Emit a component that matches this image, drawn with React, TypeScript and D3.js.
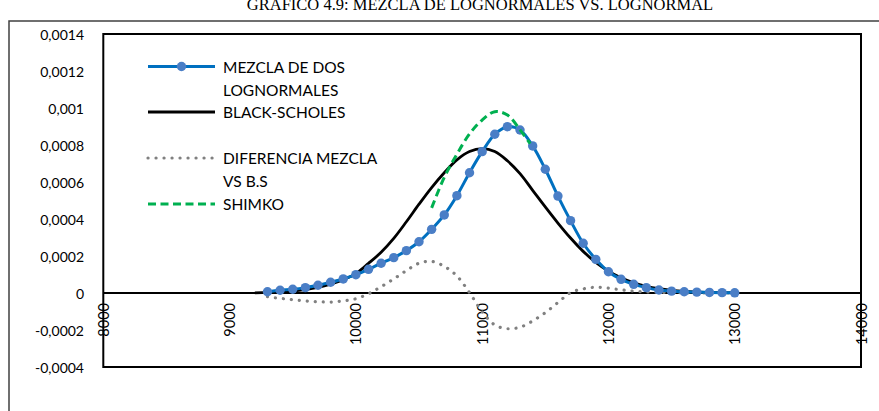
import React from "react";
import * as d3 from "d3";

const mezclaX = [9300, 9400, 9500, 9600, 9700, 9800, 9900, 10000, 10100, 10200, 10300, 10400, 10500, 10600, 10700, 10800, 10900, 11000, 11100, 11200, 11300, 11400, 11500, 11600, 11700, 11800, 11900, 12000, 12100, 12200, 12300, 12400, 12500, 12600, 12700, 12800, 12900, 13000];
const mezclaY = [0.000007, 0.000015, 0.00002, 0.000029, 0.000042, 0.000058, 0.000076, 0.000099, 0.000128, 0.000161, 0.000191, 0.000229, 0.000277, 0.000344, 0.000422, 0.000526, 0.00065, 0.000764, 0.000858, 0.000899, 0.000881, 0.000795, 0.000669, 0.000524, 0.000391, 0.000269, 0.000182, 0.000115, 0.000074, 0.000047, 0.000029, 0.000016, 0.00001, 0.000007, 0.000005, 0.000003, 0.000002, 0.000001];

const bsX = [9200, 9300, 9400, 9500, 9600, 9700, 9800, 9900, 10000, 10100, 10200, 10300, 10400, 10500, 10600, 10700, 10800, 10900, 11000, 11100, 11200, 11300, 11400, 11500, 11600, 11700, 11800, 11900, 12000, 12100, 12200, 12300, 12400, 12500, 12600, 12700, 12800, 12900, 13000];
const bsY = [0.000001, 0.000003, 0.000006, 0.00001, 0.000018, 0.00003, 0.000048, 0.000072, 0.000105, 0.00016, 0.00022, 0.000295, 0.000385, 0.00048, 0.00057, 0.00065, 0.00072, 0.000765, 0.00078, 0.000765, 0.000715, 0.000645, 0.000555, 0.000465, 0.000378, 0.000297, 0.000225, 0.000165, 0.000118, 0.000082, 0.000055, 0.000036, 0.000023, 0.000014, 0.000008, 0.000005, 0.000003, 0.000002, 0.000001];

const difX = mezclaX;
const difY = [-0.00002, -0.000029, -0.000036, -0.000043, -0.000047, -0.000049, -0.000043, -0.000031, -0.000004, 0.000034, 0.000076, 0.000121, 0.000161, 0.000171, 0.000144, 0.000092, 0.000002, -0.000101, -0.000173, -0.000193, -0.000185, -0.000151, -0.000106, -0.000052, 0.000002, 0.000022, 0.000031, 0.000026, 0.000017, 0.00001, 0.000006, 0.000004, 0.000002, 0.000001, 0.000001, 0, 0, 0];

const shimkoX = [10600, 10700, 10800, 10900, 11000, 11100, 11200, 11300, 11380];
const shimkoY = [0.00046, 0.000625, 0.00075, 0.00086, 0.000935, 0.00098, 0.000962, 0.000882, 0.000808];

const xTicks = [8000, 9000, 10000, 11000, 12000, 13000, 14000];
const yTicks = [0.0014, 0.0012, 0.001, 0.0008, 0.0006, 0.0004, 0.0002, 0, -0.0002, -0.0004];

const title = "GRÁFICO 4.9: MEZCLA DE LOGNORMALES VS. LOGNORMAL";
const legendItems = [
  { key: "mezcla", lines: ["MEZCLA DE DOS", "LOGNORMALES"] },
  { key: "bs", lines: ["BLACK-SCHOLES"] },
  { key: "dif", lines: ["DIFERENCIA MEZCLA", "VS B.S"] },
  { key: "shimko", lines: ["SHIMKO"] },
];

const W = 879;
const H = 411;
const left = 103.3;
const right = 861;
const top = 34;
const bottom = 367;

const FONT = "Lato, 'Open Sans', sans-serif";

export default function App() {
  const x = d3.scaleLinear().domain([8000, 14000]).range([left, right]);
  const y = d3.scaleLinear().domain([-0.0004, 0.0014]).range([bottom, top]);
  const mk = (xs: number[], ys: number[]) =>
    d3
      .line<number>()
      .x((_, i) => x(xs[i]))
      .y((d) => y(d))
      .curve(d3.curveCatmullRom.alpha(0.5))(ys) || "";

  const fmt = (v: number) => (v === 0 ? "0" : String(v).replace(".", ","));

  const legendX1 = 148;
  const legendX2 = 215;
  const legendTextX = 223;
  const legendRows = [66.5, 112, 158, 204];
  const lineGap = 23;

  const drawSample = (key: string, cy: number) => {
    if (key === "mezcla")
      return (
        <g>
          <line x1={legendX1} x2={legendX2} y1={cy} y2={cy} stroke="#0070C0" strokeWidth={3} />
          <circle cx={(legendX1 + legendX2) / 2} cy={cy} r={4.7} fill="#4A7EC6" />
        </g>
      );
    if (key === "bs")
      return <line x1={legendX1} x2={legendX2} y1={cy} y2={cy} stroke="#000" strokeWidth={3} />;
    if (key === "dif")
      return (
        <line x1={legendX1} x2={legendX2} y1={cy} y2={cy} stroke="#808080" strokeWidth={3.2}
          strokeLinecap="round" strokeDasharray="0.1 7.9" />
      );
    return (
      <line x1={legendX1} x2={legendX2} y1={cy} y2={cy} stroke="#00B050" strokeWidth={3}
        strokeDasharray="8 4.5" />
    );
  };

  return (
    <svg width={W} height={H} style={{ position: "absolute", left: 0, top: 0, display: "block", background: "#fff" }}>
      <rect x={0} y={0} width={W} height={H} fill="#fff" />
      <text x={480} y={10} textAnchor="middle" fontFamily="'Liberation Serif', 'Times New Roman', serif" fontSize={16.5} fill="#000">
        {title}
      </text>
      {/* outer chart frame */}
      <path d={`M9,${H + 5} L9,21 L${W + 5},21`} fill="none" stroke="#404040" strokeWidth={1.5} />

      {/* plot border */}
      <rect x={left} y={top} width={right - left} height={bottom - top} fill="none" stroke="#000" strokeWidth={2} />
      {/* zero axis */}
      <line x1={left} x2={right} y1={y(0)} y2={y(0)} stroke="#000" strokeWidth={2} />

      {/* y tick labels */}
      {yTicks.map((t) => (
        <text key={t} x={84} y={y(t)} textAnchor="end" dominantBaseline="central" fontFamily={FONT} fontSize={14} fill="#000">
          {fmt(t)}
        </text>
      ))}
      {/* x tick labels */}
      {xTicks.map((t) => (
        <text key={t} transform={`translate(${x(t)},${y(0) + 10}) rotate(-90)`} textAnchor="end" dominantBaseline="central"
          fontFamily={FONT} fontSize={14.5} fill="#000">
          {t}
        </text>
      ))}

      {/* series */}
      <path d={mk(bsX, bsY)} fill="none" stroke="#000" strokeWidth={2.8} />
      <path d={mk(difX, difY)} fill="none" stroke="#808080" strokeWidth={3.2} strokeLinecap="round" strokeDasharray="0.1 7.9" />
      <path d={mk(mezclaX, mezclaY)} fill="none" stroke="#0070C0" strokeWidth={3} />
      {mezclaX.map((xv, i) => (
        <circle key={xv} cx={x(xv)} cy={y(mezclaY[i])} r={4.7} fill="#4A7EC6" />
      ))}
      <path d={mk(shimkoX, shimkoY)} fill="none" stroke="#00B050" strokeWidth={3} strokeDasharray="8 4.5" />

      {/* legend */}
      {legendItems.map((item, i) => (
        <g key={item.key}>
          {drawSample(item.key, legendRows[i])}
          {item.lines.map((ln, j) => (
            <text key={ln} x={legendTextX} y={legendRows[i] + j * lineGap} dominantBaseline="central"
              fontFamily={FONT} fontSize={15.5} fill="#000">
              {ln}
            </text>
          ))}
        </g>
      ))}
    </svg>
  );
}
